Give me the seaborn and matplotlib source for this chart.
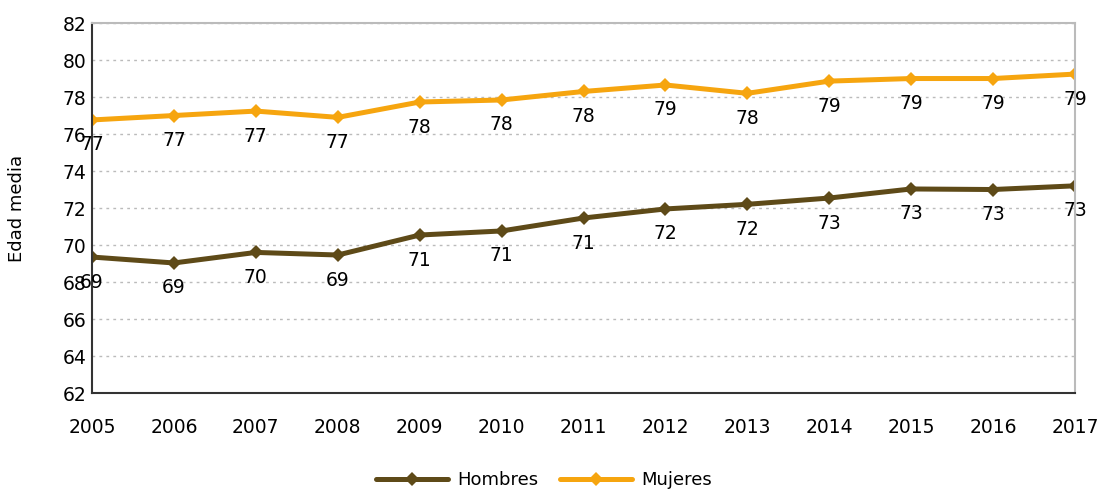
import pandas as pd
import matplotlib.pyplot as plt
import seaborn as sns

# Data
years = [2005, 2006, 2007, 2008, 2009, 2010, 2011, 2012, 2013, 2014, 2015, 2016, 2017]
hombres = [69.35, 69.03, 69.6, 69.46, 70.54, 70.76, 71.46, 71.95, 72.2, 72.54, 73.03, 73.0, 73.2]
mujeres = [76.76, 77.0, 77.24, 76.9, 77.73, 77.84, 78.3, 78.65, 78.2, 78.86, 79.0, 79.0, 79.24]
series_names = ["Hombres", "Mujeres"]
colors = {"Hombres": "#5e4a18", "Mujeres": "#f6a50f"}

sns.set_theme(style="white")
plt.rcParams['font.family'] = ['DejaVu Sans']
plt.rcParams['text.color'] = 'black'
plt.rcParams['xtick.color'] = 'black'
plt.rcParams['ytick.color'] = 'black'
plt.rcParams['axes.labelcolor'] = 'black'

df = pd.DataFrame({
    "Año": years * 2,
    "Edad": hombres + mujeres,
    "Sexo": ["Hombres"] * len(years) + ["Mujeres"] * len(years),
})

fig = plt.figure(figsize=(11.02, 4.93), dpi=100)
ax = fig.add_axes([0.0835, 0.2028, 0.892, 0.7505])

sns.lineplot(data=df, x="Año", y="Edad", hue="Sexo", hue_order=series_names,
             palette=colors, marker="D", markersize=7, markeredgewidth=0,
             linewidth=3.6, ax=ax)

# value labels below each point
for name, vals in zip(series_names, [hombres, mujeres]):
    for x, y in zip(years, vals):
        ax.annotate(f"{round(y):.0f}", (x, y), xytext=(0, -18), textcoords="offset points",
                    ha="center", va="center", fontsize=13.5, color="black")

ax.set_xlim(2005, 2017)
ax.set_ylim(62, 82)
ax.set_yticks(range(62, 83, 2))
ax.set_xticks(years)
ax.tick_params(axis="x", labelsize=13.5, pad=18, length=0)
ax.tick_params(axis="y", labelsize=13.5, pad=4, length=0)
ax.yaxis.grid(True, linestyle=(0, (2, 3)), color="#bbbbbb", linewidth=1)
ax.set_axisbelow(True)

for side in ["left", "bottom"]:
    ax.spines[side].set_color("#333333")
    ax.spines[side].set_linewidth(1.5)
for side in ["top", "right"]:
    ax.spines[side].set_color("#bbbbbb")
    ax.spines[side].set_linewidth(1.5)

ax.set_xlabel("")
ax.set_ylabel("Edad media", fontsize=13, labelpad=26)

ax.legend(loc="center", bbox_to_anchor=(0.46, -0.235), ncol=2, frameon=False,
          fontsize=13, handlelength=4, columnspacing=1.2, handletextpad=0.5)

fig.savefig("out.png", dpi=100)
